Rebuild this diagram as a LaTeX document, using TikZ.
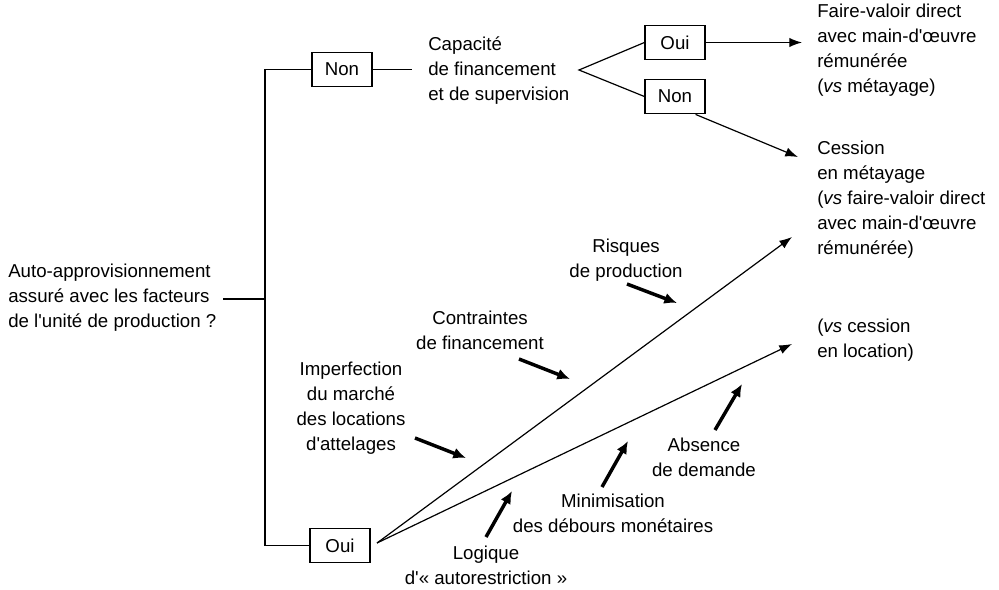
\documentclass[tikz,border=0pt]{standalone}
\usepackage{fontspec}
\setmainfont{Liberation Sans}
\usetikzlibrary{arrows.meta}
\newcommand{\ap}{\textquotesingle}
\begin{document}
\begin{tikzpicture}[x=0.75pt,y=-0.75pt,
  txt/.style={font=\fontsize{14}{18.75}\selectfont, inner sep=0pt, align=left},
  ctxt/.style={txt, align=center},
  box/.style={draw, line width=0.9pt, inner sep=0pt, minimum width=45pt, minimum height=26pt, font=\fontsize{14}{16}\selectfont},
  thin/.style={line width=0.9pt},
  arr/.style={thin, -{Latex[length=9.5pt,width=7pt]}},
  bold/.style={line width=2.6pt, -{Latex[length=9.5pt,width=8.5pt]}}]
\useasboundingbox (0,0) rectangle (999,589);

% nodes
\node[txt, anchor=west] (q) at (8,298) {Auto-approvisionnement\\assuré avec les facteurs\\de l\ap unité de production ?};
\node[box] (nonA) at (342,69.5) {Non};
\node[box] (ouiA) at (340,545.5) {Oui};
\node[txt, anchor=west] (cap) at (428,71) {Capacité\\de financement\\et de supervision};
\node[box] (ouiB) at (675,42.5) {Oui};
\node[box] (nonB) at (675,96.5) {Non};
\node[txt, anchor=west] (fvd) at (817,50) {Faire-valoir direct\\avec main-d\ap œuvre\\rémunérée\\(\textit{vs} métayage)};
\node[txt, anchor=west] (ces) at (817,200) {Cession\\en métayage\\(\textit{vs} faire-valoir direct\\avec main-d\ap œuvre\\rémunérée)};
\node[txt, anchor=west] (loc) at (817,340) {(\textit{vs} cession\\en location)};

\node[ctxt] (ris) at (626,260.5) {Risques\\de production};
\node[ctxt] (con) at (480,330) {Contraintes\\de financement};
\node[ctxt] (imp) at (351,408.5) {Imperfection\\du marché\\des locations\\d\ap attelages};
\node[ctxt] (log) at (486,565) {Logique\\d\ap « autorestriction »};
\node[ctxt] (min) at (613,513) {Minimisation\\des débours monétaires};
\node[ctxt] (abs) at (704,457) {Absence\\de demande};

% coordinates
\coordinate (trT) at (265,69.5);
\coordinate (trB) at (265,545.5);
\coordinate (br) at (579,70);
\coordinate (eFvd) at (802,42.5);
\coordinate (eCes) at (798,157);
\coordinate (eUp) at (792,237);
\coordinate (eLo) at (792,344);
\coordinate (st) at (377,543);

% tree lines
\draw[thin] (nonA.west) -- (trT) -- (trB) -- (ouiA.west);
\draw[thin] (223,299) -- (trT |- 0,299);
\draw[thin] (nonA.east) -- ([xshift=-12pt]cap.west |- nonA.east);
\draw[thin] (ouiB.west) -- (br) -- (nonB.west);
\draw[arr] (ouiB.east) -- (eFvd);
\draw[arr] ([xshift=-7.5pt]nonB.south east) -- (eCes);
\draw[arr] (st) -- (eUp);
\draw[arr] (st) -- (eLo);

% bold factor arrows
\coordinate (rA) at (627,284); \coordinate (rB) at (677,303);
\coordinate (cA) at (519,359); \coordinate (cB) at (570,379);
\coordinate (iA) at (415,438); \coordinate (iB) at (466,458);
\coordinate (lA) at (486,537); \coordinate (lB) at (512,491);
\coordinate (mA) at (602,487); \coordinate (mB) at (628,441);
\coordinate (aA) at (715,430); \coordinate (aB) at (742,384);
\draw[bold] (rA) -- (rB);
\draw[bold] (cA) -- (cB);
\draw[bold] (iA) -- (iB);
\draw[bold] (lA) -- (lB);
\draw[bold] (mA) -- (mB);
\draw[bold] (aA) -- (aB);
\end{tikzpicture}
\end{document}
